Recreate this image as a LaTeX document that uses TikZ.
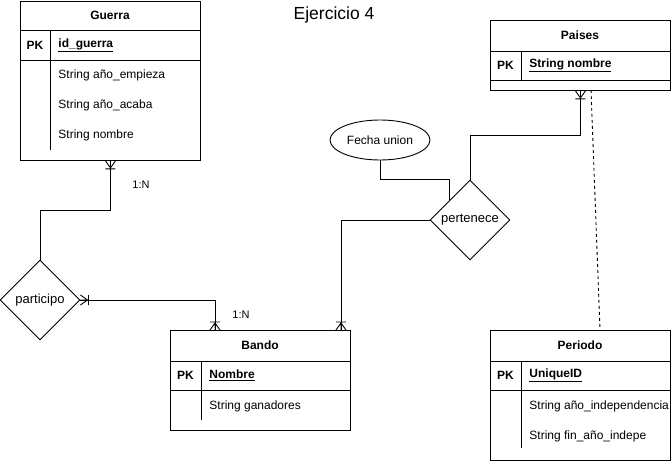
\documentclass[tikz,border=0pt]{standalone}
\usepackage{fontspec}
\setmainfont{Liberation Sans}
\usetikzlibrary{shapes.geometric,calc}
\begin{document}
\begin{tikzpicture}[x=1pt,y=-1pt,line width=0.9pt,
  font=\fontsize{12}{14}\selectfont,
  ent/.style={draw,rectangle,inner sep=0pt,anchor=north west,minimum width=180pt},
  hdr/.style={font=\fontsize{12}{14}\selectfont\bfseries,inner sep=0pt},
  pklab/.style={font=\fontsize{12}{14}\selectfont\bfseries,inner sep=0pt},
  keylab/.style={font=\fontsize{12}{14}\selectfont\bfseries,inner sep=0pt,anchor=west},
  attr/.style={inner sep=0pt,anchor=west},
  rel/.style={draw,diamond,shape aspect=1,inner sep=0pt,minimum size=80pt,font=\fontsize{13}{15}\selectfont},
  attrov/.style={draw,ellipse,inner sep=0pt,minimum width=100pt,minimum height=40pt},
  card/.style={inner sep=0pt,font=\fontsize{11}{13}\selectfont},
  crow/.pic={\draw (0,-5)--(7,0)--(0,5) (0,0)--(7,0) (8,-5)--(8,5);}
]
\useasboundingbox (0,0) rectangle (671,461);

% title
\node[inner sep=0pt,font=\fontsize{17.5}{20}\selectfont] (title) at (334,15) {Ejercicio 4};

% Guerra
\node[ent,minimum height=159.5pt] (guerra) at (20,0.5) {};
\draw (20,30) -- (200,30) (20,60) -- (200,60) (50,30) -- (50,150);
\node[hdr] (guerraT) at (110,15) {Guerra};
\node[pklab] (guerraPK) at (35,45) {PK};
\node[keylab] (guerraK) at (58,45) {\underline{id\_guerra}};
\node[attr] (guerraA1) at (58,75) {String año\_empieza};
\node[attr] (guerraA2) at (58,105) {String año\_acaba};
\node[attr] (guerraA3) at (58,135) {String nombre};

% Paises
\node[ent,minimum height=70pt] (paises) at (490,20) {};
\draw (490,51) -- (670,51) (490,80) -- (670,80) (521,51) -- (521,80);
\node[hdr] (paisesT) at (580,35.5) {Paises};
\node[pklab] (paisesPK) at (505.5,65.5) {PK};
\node[keylab] (paisesK) at (529,65.5) {\underline{String nombre}};

% Bando
\node[ent,minimum height=100pt] (bando) at (170,330) {};
\draw (170,361) -- (350,361) (170,390) -- (350,390) (201,361) -- (201,420);
\node[hdr] (bandoT) at (260,345.5) {Bando};
\node[pklab] (bandoPK) at (185.5,375.5) {PK};
\node[keylab] (bandoK) at (209,375.5) {\underline{Nombre}};
\node[attr] (bandoA1) at (209,406) {String ganadores};

% Periodo
\node[ent,minimum height=130pt] (periodo) at (490,330) {};
\draw (490,361) -- (670,361) (490,390) -- (670,390) (521,361) -- (521,448);
\node[hdr] (periodoT) at (580,345.5) {Periodo};
\node[pklab] (periodoPK) at (505.5,375.5) {PK};
\node[keylab] (periodoK) at (529,375.5) {\underline{UniqueID}};
\node[attr] (periodoA1) at (529,406) {String año\_independencia};
\node[attr] (periodoA2) at (529,436) {String fin\_año\_indepe};

% relationships
\node[rel] (participo) at (40,300) {participo};
\node[rel] (pertenece) at (470,220) {pertenece};
\node[attrov] (fecha) at (380,140) {Fecha union};

% attachment points
\coordinate (bandoL) at (215,330);
\coordinate (bandoR) at (341,330);
\coordinate (paisesD) at (591,90);
\coordinate (periodoD) at (600,330);

% connectors
\draw (guerra.south) |- ($(guerra.south)!.5!(participo.north)$) -| (participo.north);
\draw (participo.east) -| (bandoL);
\draw (pertenece.north) |- ($(pertenece.north)!.5!(paises.south)$) -| (paises.south);
\draw (pertenece.west) -| (bandoR);
\draw (fecha.south) |- (pertenece.north -| pertenece.north west) -- (pertenece.north west);
\draw[dash pattern=on 3pt off 3pt,line width=0.9pt] (paisesD) -- (periodoD);

% crow's feet
\pic[rotate=-90] at (guerra.south) {crow};
\pic at (participo.east) {crow};
\pic[rotate=90] at (bandoL) {crow};
\pic[rotate=90] at (bandoR) {crow};
\pic[rotate=-90] at (paises.south) {crow};

% cardinalities
\node[card] (card1) at (141,185) {1:N};
\node[card] (card2) at (241,315) {1:N};
\end{tikzpicture}
\end{document}
